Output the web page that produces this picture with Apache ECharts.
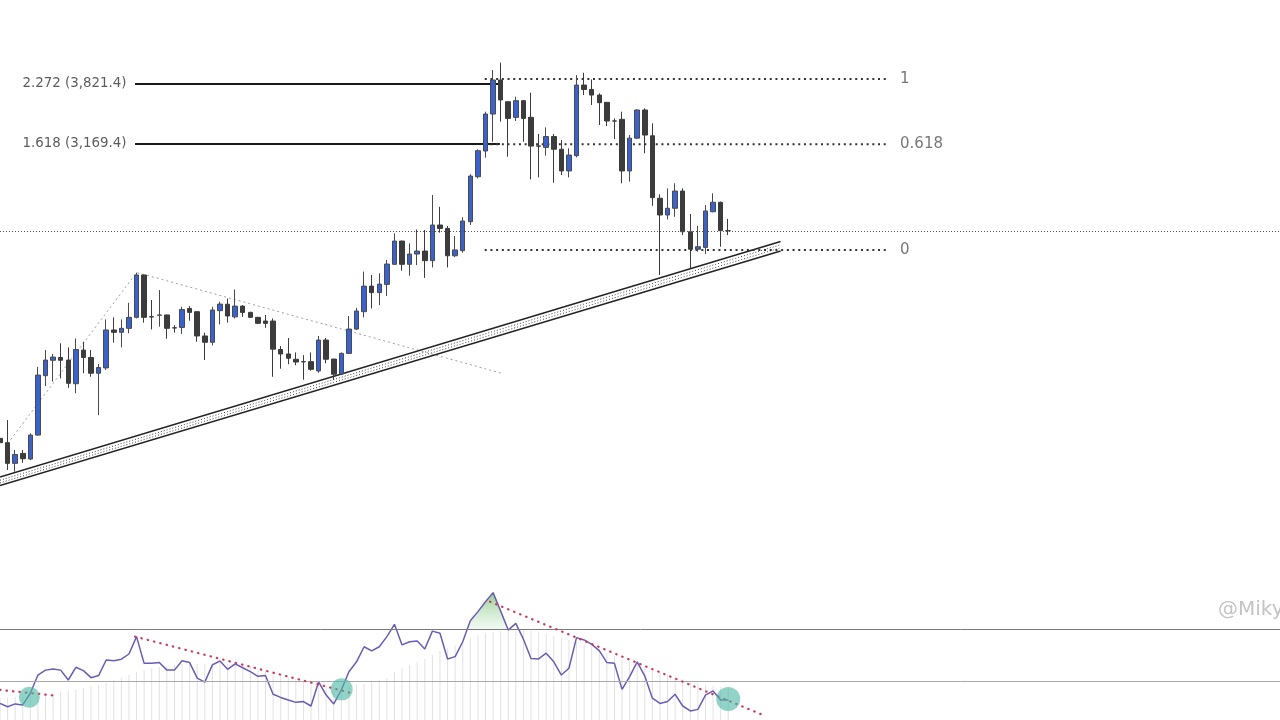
<!DOCTYPE html>
<html><head><meta charset="utf-8">
<script src="https://cdn.jsdelivr.net/npm/echarts@6/dist/echarts.min.js"></script>
<style>html,body{margin:0;padding:0;background:#fff}#c{width:1280px;height:720px}</style>
</head><body><div id="c"></div>
<script>
// candles: [open, close, low, high]
const candles = [
[1266,1249,1240,1275],[1249,1171,1147,1340],[1171,1204,1141,1221],[1208,1188,1173,1221],[1187,1279,1183,1286],
[1279,1542,1277,1582],[1539,1616,1490,1667],[1615,1631,1511,1647],[1629,1615,1526,1703],[1616,1503,1482,1681],
[1501,1670,1457,1729],[1667,1629,1551,1711],[1629,1551,1534,1667],[1551,1579,1361,1596],[1577,1775,1567,1834],
[1775,1762,1706,1846],[1762,1784,1681,1834],[1784,1846,1757,1932],[1846,2107,1840,2122],[2107,1846,1816,2108],
[1850,1848,1778,1949],[1858,1860,1793,2010],[1860,1784,1727,1861],[1787,1786,1760,1802],[1789,1892,1753,1908],
[1898,1875,1827,1912],[1879,1742,1711,1880],[1742,1708,1616,1760],[1708,1889,1692,1908],[1885,1924,1806,1938],
[1923,1854,1816,1958],[1849,1912,1840,2014],[1912,1875,1849,1918],[1875,1846,1844,1879],[1846,1812,1808,1849],
[1825,1812,1787,1860],[1825,1672,1534,1840],[1670,1647,1573,1688],[1647,1625,1595,1731],[1620,1606,1590,1655],
[1608,1607,1520,1641],[1608,1570,1563,1655],[1562,1720,1553,1742],[1720,1620,1600,1731],[1621,1546,1519,1622],
[1547,1650,1542,1655],[1650,1780,1647,1854],[1780,1883,1775,1902],[1879,2035,1846,2129],[2035,1994,1898,2107],
[1994,2048,1918,2118],[2046,2180,1973,2208],[2178,2342,2176,2399],[2342,2178,2135,2344],[2178,2249,2102,2325],
[2249,2270,2173,2428],[2270,2203,2088,2424],[2203,2462,2157,2703],[2462,2436,2404,2606],[2436,2237,2157,2454],
[2237,2278,2227,2379],[2273,2493,2258,2522],[2488,2868,2462,2884],[2862,3104,2847,3118],[3101,3480,3037,3505],
[3480,3869,3192,3992],[3869,3636,3398,4084],[3616,3433,3046,3618],[3444,3628,3405,3672],[3628,3433,3192,3636],
[3444,3149,2838,3719],[3150,3148,2856,3270],[3136,3244,3056,3338],[3244,3118,2809,3270],[3118,2914,2877,3209],
[2914,3062,2856,3127],[3056,3809,3040,3930],[3809,3757,3692,3958],[3757,3692,3579,3876],[3692,3605,3363,3712],
[3609,3405,3352,3612],[3406,3404,3218,3433],[3423,2914,2804,3505],[2914,3228,2818,3259],[3228,3524,3218,3532],
[3524,3259,3079,3542],[3252,2681,2614,3381],[2676,2540,2107,2709],[2540,2594,2505,2760],[2594,2737,2526,2804],
[2737,2411,2386,2760],[2411,2283,2152,2548],[2283,2301,2265,2456],[2296,2572,2249,2620],[2566,2643,2562,2718],
[2643,2419,2301,2648],[2419,2418,2386,2509]
];
const rsi = [
41.5,40.2,41.3,40.9,45.4,52.4,54.3,54.7,54.3,50.5,
55.4,54.1,51.4,52.2,58.2,57.9,58.5,60.5,67.2,56.9,
56.9,57.2,54.3,54.3,57.9,57.2,51.2,49.7,56.3,57.8,
54.6,56.7,55.2,53.7,51.9,52.2,45.0,43.8,42.8,41.9,
42.2,40.5,49.8,44.7,41.3,46.7,53.7,57.5,63.3,61.7,
63.3,67.2,71.9,64.0,65.2,65.5,62.4,69.3,68.5,58.6,
59.5,65.2,73.3,76.8,80.6,84.1,77.0,69.7,72.3,66.2,
58.8,58.6,60.8,57.5,52.4,55.0,66.8,65.9,64.2,61.8,
57.2,56.9,46.9,51.8,57.5,52.0,43.5,41.5,42.2,45.0,
40.5,38.6,39.2,44.7,46.3,42.8,42.8
];
const rsiAvg = [
43.7,43.7,44.1,44.1,44.5,44.9,45.3,45.7,46.0,46.4,
46.8,47.5,48.2,48.6,49.3,50.5,51.3,52.4,53.6,54.3,
55.1,55.5,55.9,56.3,56.7,56.7,56.7,56.7,57.0,57.0,
56.7,56.3,55.9,55.5,54.7,54.0,53.2,52.4,51.7,50.9,
50.1,49.3,48.6,48.2,48.2,48.2,48.2,48.6,49.0,49.7,
50.5,51.3,53.6,55.1,56.3,57.4,58.6,60.1,61.7,62.8,
64.0,65.1,66.7,67.8,68.6,69.0,69.3,69.7,69.7,69.7,
69.3,69.0,68.2,67.4,66.7,65.9,65.1,64.0,63.2,62.0,
60.9,59.7,58.6,57.8,56.7,55.5,54.7,53.6,52.4,51.7,
50.9,50.1,49.3,48.6,48.2,47.8,47.5
];
const fibExtLevels = [{text:'2.272 (3,821.4)', price:3821.4},{text:'1.618 (3,169.4)', price:3169.4}];
const fibExtRange = [17.8, 65.9];
const fibRetLevels = [{text:'1', price:3881.5},{text:'0.618', price:3166},{text:'0', price:2277.5}];
const fibRetRange = [63.9, 117];
const lastPrice = 2418;
const channelTop = [[0,1122],[102.9,2339]];
const channelDot1 = [[0,1111],[102.9,2315]];
const channelDot2 = [[0,1102],[102.9,2293]];
const channelBottom = [[0,1093],[102.9,2270]];
const zigzag = [[1,1245],[18,2122],[19,2110],[66,1552]];
const rsiTrend1 = [[0,46.7],[7.25,44.5]];
const rsiTrend2 = [[17.8,67.2],[46.4,45.4]];
const rsiTrend3 = [[64.6,80.6],[100.6,37.0]];
const rsiCircles = [[3.86,43.85,21],[45.04,46.9,22],[96.0,43.2,24]];
const peakFill = [[61.5,70],[62,73.3],[63,76.8],[64,80.6],[65,84.1],[66,77.0],[66.9,70]];
const upperBand = 70, midBand = 50;
const categories = Array.from({length:170}, (_, i) => String(i));

const chart = echarts.init(document.getElementById('c'), null, {renderer:'canvas'});
const font = 'DejaVu Sans';
const hid = {show:false, splitLine:{show:false}, axisLine:{show:false}, axisTick:{show:false}, axisLabel:{show:false}};
function seg(data, color, width, type, z) {
  return {type:'line', xAxisIndex:1, yAxisIndex:0, data, symbol:'none', silent:true, z:z||3,
    lineStyle:{color, width, type}};
}
function rseg(data, color, width, type, z) {
  return {type:'line', xAxisIndex:2, yAxisIndex:1, data, symbol:'none', silent:true, z:z||5,
    lineStyle:{color, width, type, cap:'round'}};
}
const series = [];
series.push({
  type:'candlestick', xAxisIndex:0, yAxisIndex:0, data:candles, barWidth:5, z:4,
  itemStyle:{color:'#3a62cf', color0:'#3c3c3c', borderColor:'#4a4a4a', borderColor0:'#3c3c3c', borderWidth:1},
  markLine:{silent:true, symbol:'none', label:{show:false},
    lineStyle:{color:'#555', width:1, type:[1,2]}, data:[{yAxis:lastPrice}]}
});
series.push(seg(channelTop,'#222',1.5,'solid'));
series.push(seg(channelBottom,'#222',1.5,'solid'));
series.push(seg(channelDot1,'#444',1,[1,2]));
series.push(seg(channelDot2,'#444',1,[1,2]));
series.push(seg(zigzag,'#a0a0a0',1,[2,3],2));
fibExtLevels.forEach(l => series.push(seg([[fibExtRange[0],l.price],[fibExtRange[1],l.price]],'#1a1a1a',2,'solid')));
fibRetLevels.forEach(l => series.push(seg([[fibRetRange[0],l.price],[fibRetRange[1],l.price]],'#333',2,[2,3.7])));
series.push({type:'scatter', xAxisIndex:1, yAxisIndex:0, symbolSize:1, silent:true, z:6,
  itemStyle:{color:'rgba(0,0,0,0)'},
  data: fibExtLevels.map(l => ({value:[fibExtRange[0], l.price],
    label:{show:true, position:'left', distance:8, formatter:l.text, color:'#333', fontSize:13.4, fontFamily:font}}))
    .concat(fibRetLevels.map(l => ({value:[fibRetRange[1], l.price],
    label:{show:true, position:'right', distance:12, formatter:l.text, color:'#555', fontSize:15, fontFamily:font}})))
});
// RSI pane
series.push({type:'bar', xAxisIndex:2, yAxisIndex:1, barWidth:1, silent:true, z:1,
  itemStyle:{color:'#e2e2e2'}, data: rsiAvg.map((v,i)=>[i,v])});
series.push({type:'custom', xAxisIndex:2, yAxisIndex:1, silent:true, z:2, data:[peakFill[0]],
  renderItem:(params, api) => ({type:'polygon',
    shape:{points: peakFill.map(p => api.coord(p))},
    style:{fill:new echarts.graphic.LinearGradient(0,0,0,1,[{offset:0,color:'rgba(110,190,110,0.75)'},{offset:1,color:'rgba(215,238,215,0.35)'}])}})});
series.push({type:'line', xAxisIndex:2, yAxisIndex:1, data:rsi.map((v,i)=>[i,v]), symbol:'none', silent:true, z:4,
  lineStyle:{color:'#6b5cb5', width:1.5},
  markLine:{silent:true, symbol:'none', label:{show:false},
    data:[{yAxis:upperBand, lineStyle:{color:'#7a7a7a', width:1, type:'solid'}},
          {yAxis:midBand, lineStyle:{color:'#a8a8a8', width:1, type:'solid'}}]}});
series.push(rseg(rsiTrend1,'#d03a5a',2.2,[0.5,6]));
series.push(rseg(rsiTrend2,'#d03a5a',2.2,[0.5,6]));
series.push(rseg(rsiTrend3,'#d03a5a',2.2,[0.5,6]));
series.push({type:'scatter', xAxisIndex:2, yAxisIndex:1, silent:true, z:6,
  data: rsiCircles.map(c=>[c[0],c[1],c[2]]), symbolSize: d=>d[2],
  itemStyle:{color:'rgba(80,185,165,0.78)'}});

chart.setOption({
  animation:false,
  backgroundColor:'#ffffff',
  grid:[{left:0, width:1282, top:10.87, height:503.13, outerBoundsMode:'none', containLabel:false},
        {left:0, width:1282, top:551.3, height:182, outerBoundsMode:'none', containLabel:false}],
  xAxis:[
    Object.assign({type:'category', data:categories, boundaryGap:false, gridIndex:0}, hid),
    Object.assign({type:'value', min:0, max:169, gridIndex:0}, hid),
    Object.assign({type:'value', min:0, max:169, gridIndex:1}, hid)
  ],
  yAxis:[
    Object.assign({type:'log', logBase:10, min:1000, max:4800, gridIndex:0}, hid),
    Object.assign({type:'value', min:30, max:100, gridIndex:1}, hid)
  ],
  graphic:[{type:'text', left:1218, top:600, silent:true,
    style:{text:'@Miky', fill:'#c4c4c4', font:'20px "DejaVu Sans"'}}],
  series
});
</script></body></html>
